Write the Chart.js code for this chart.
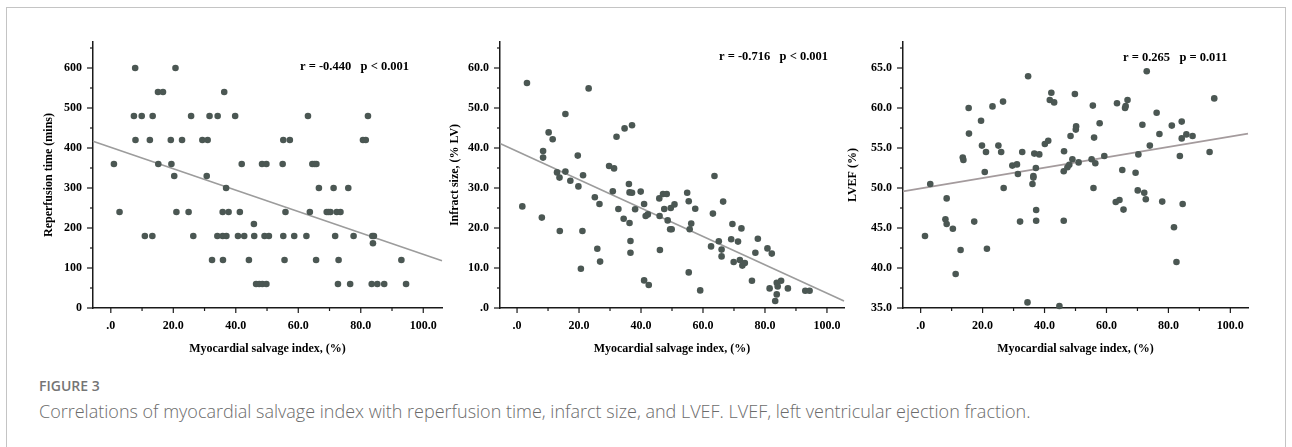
<!DOCTYPE html>
<html><head><meta charset="utf-8">
<script src="https://cdn.jsdelivr.net/npm/chart.js@4.4.1/dist/chart.umd.min.js"></script>
<style>
html,body{margin:0;padding:0;background:#fff;width:1292px;height:447px;overflow:hidden;position:relative;}
#frame{position:absolute;left:6px;top:7px;width:1280px;height:460px;border:1px solid #c4c4c4;border-bottom:none;box-sizing:border-box;}
canvas{position:absolute;top:0;}
#fig{position:absolute;left:39px;top:376px;font:600 14px "Open Sans";color:#757575;line-height:20px;white-space:nowrap;}
#cap{position:absolute;left:39px;top:399px;font:300 18px "Open Sans";color:#6b6b6b;line-height:24px;white-space:nowrap;}
</style></head>
<body>
<div id="frame"></div>
<canvas id="c1" width="413" height="358" style="left:33px"></canvas>
<canvas id="c2" width="408" height="358" style="left:440px"></canvas>
<canvas id="c3" width="409" height="358" style="left:843px"></canvas>
<div id="fig">FIGURE 3</div>
<div id="cap">Correlations of myocardial salvage index with reperfusion time, infarct size, and LVEF. LVEF, left ventricular ejection fraction.</div>
<script>
// ---- data ----
const xTickValues = [0, 20, 40, 60, 80, 100];
const xTickLabels = ['.0', '20.0', '40.0', '60.0', '80.0', '100.0'];
const xMinorTicks = [10, 30, 50, 70, 90];

const repTickValues = [0, 100, 200, 300, 400, 500, 600];
const repTickLabels = ['0', '100', '200', '300', '400', '500', '600'];
const repMinorTicks = [50, 150, 250, 350, 450, 550, 650];

const infTickValues = [0, 10, 20, 30, 40, 50, 60];
const infTickLabels = ['.0', '10.0', '20.0', '30.0', '40.0', '50.0', '60.0'];
const infMinorTicks = [5, 15, 25, 35, 45, 55, 65];

const efTickValues = [35, 40, 45, 50, 55, 60, 65];
const efTickLabels = ['35.0', '40.0', '45.0', '50.0', '55.0', '60.0', '65.0'];
const efMinorTicks = [37.5, 42.5, 47.5, 52.5, 57.5, 62.5, 67.5];

const msiRep = [7.8,20.7, 15.1,16.7,36.3, 7.4,9.9,13.4,25.7,31.6,34.2,39.8,63.1,82.3,
  7.9,12.5,19.2,22.8,29.3,31.0,55.2,57.3,80.7,81.6,
  1.0,15.2,19.4,41.9,48.4,49.8,55.0,64.5,65.2,65.8, 20.3,30.7, 36.9,66.6,71.3,76.0,
  2.8,21.0,24.9,35.8,37.7,41.3,55.9,63.7,69.1,69.7,70.3,72.3,73.5, 45.8,
  10.9,13.3,26.4,34.1,35.8,37.0,40.7,42.7,45.9,49.2,50.6,55.2,58.7,62.6,71.8,77.7,83.7,84.2, 83.9,
  32.4,35.9,44.2,55.6,65.7,72.9,93.0, 46.5,47.5,48.5,49.8,72.7,76.6,83.5,85.3,87.5,94.5];
const repTime = [600,600, 540,540,540, 480,480,480,480,480,480,480,480,480,
  420,420,420,420,420,420,420,420,420,420,
  360,360,360,360,360,360,360,360,360,360, 330,330, 300,300,300,300,
  240,240,240,240,240,240,240,240,240,240,240,240,240, 210,
  180,180,180,180,180,180,180,180,180,180,180,180,180,180,180,180,180,180, 162,
  120,120,120,120,120,120,120, 60,60,60,60,60,60,60,60,60,60];

const msiInf = [3.2,23.1,15.6,10.2,11.5,37.1,34.7,32.1,8.4,8.4,19.6,12.9,13.7,15.6,17.2,21.3,19.8,29.7,31.3,30.9,
  36.1,36.3,37.1,39.9,25.1,26.6,32.7,38.1,41.0,34.4,36.3,41.5,42.2,45.9,47.1,48.3,47.5,46.0,48.6,49.6,
  50.8,49.4,49.9,54.9,55.4,57.5,56.2,55.7,1.7,8.0,13.8,21.1,25.9,26.8,20.6,36.6,36.6,46.1,41.0,42.5,
  55.4,59.1,63.7,63.2,62.6,65.1,66.0,66.0,66.5,69.5,69.1,69.9,71.3,71.9,72.4,72.7,73.5,75.8,76.9,77.7,
  80.8,82.2,81.5,83.3,83.8,83.8,84.1,85.2,87.4,93.0,94.4];
const infarctSize = [56.25,54.9,48.5,43.9,42.2,45.7,44.9,42.8,39.25,37.6,38.1,33.9,32.6,34.1,31.8,33.2,30.4,35.5,34.9,29.2,
  31.0,28.9,28.8,29.1,27.7,26.0,24.75,24.7,26.0,22.3,21.25,23.0,23.4,27.4,28.5,28.5,24.75,23.0,21.9,25.0,
  25.9,19.7,19.7,28.8,26.7,24.8,21.1,19.7,25.4,22.6,19.25,19.25,14.8,11.6,9.8,16.75,13.8,14.5,6.9,5.75,
  8.9,4.4,33.0,23.6,15.4,16.7,14.6,12.9,26.6,21.0,17.2,11.5,16.6,12.0,19.9,10.6,11.25,6.8,13.8,17.3,
  14.9,13.6,4.9,1.75,3.4,6.3,5.4,6.8,4.9,4.3,4.3];

const msiEf = [1.4,3.1,8.0,8.4,8.4,10.4,11.3,12.9,13.6,13.8,15.5,15.6,17.3,19.5,19.8,20.7,21.1,21.4,23.2,25.1,
  26.0,26.6,26.8,29.6,31.1,31.4,32.1,32.8,34.7,34.5,36.1,36.4,36.4,36.7,37.2,37.3,37.3,38.3,40.1,41.2,
  41.7,42.2,43.1,44.8,46.2,46.2,46.3,47.4,48.0,48.4,49.0,49.8,50.1,50.2,51.0,55.2,55.6,56.0,55.8,56.4,
  57.8,59.3,63.0,63.4,64.2,65.1,65.5,66.0,66.2,66.8,69.4,70.1,70.3,71.6,72.2,72.7,73.0,74.0,76.2,77.1,
  78.0,81.1,81.8,82.6,83.7,84.3,84.3,84.6,85.8,87.8,93.3,94.8];
const lvef = [44.0,50.5,46.1,48.7,45.5,44.9,39.25,42.25,53.8,53.5,60.0,56.8,45.8,58.4,55.3,52.0,54.5,42.4,60.2,55.3,
  54.5,60.8,50.0,52.8,52.95,51.75,45.8,54.5,63.96,35.7,50.5,51.5,51.3,54.3,52.5,47.25,45.9,54.2,55.5,55.9,
  61.0,61.9,60.7,35.25,45.9,52.1,54.6,52.6,52.9,56.5,53.6,61.75,57.3,57.7,53.2,53.6,60.3,56.3,50.0,53.1,
  58.1,54.0,48.25,60.6,48.5,52.25,47.3,60.0,60.25,61.0,51.9,49.7,54.2,57.9,49.4,48.6,64.6,55.3,59.4,56.75,
  48.3,57.8,45.1,40.75,54.0,58.3,56.2,48.0,56.7,56.5,54.5,61.2];

// fit line end points
const repFitX = [-5.7, 106.0];
const repFitY = [416.7, 118.3];
const infFitX = [-5.5, 105.5];
const infFitY = [41.1, 1.75];
const efFitX = [-5.7, 105.7];
const efFitY = [49.58, 56.8];

const statRep = 'r = -0.440   p < 0.001';
const statInf = 'r = -0.716   p < 0.001';
const statEf = 'r = 0.265   p = 0.011';

// ---- drawing ----
const DOT = '#4b5753';
const AXIS = '#1a1a1a';
const SERIF = '"Liberation Serif", "Times New Roman", serif';

const tickMarks = {
  id: 'tickMarks',
  afterDraw(chart, args, o) {
    const ctx = chart.ctx, xs = chart.scales.x, ys = chart.scales.y;
    ctx.save();
    ctx.strokeStyle = AXIS; ctx.lineWidth = 1.2;
    const seg = (a, b, c, d) => { ctx.beginPath(); ctx.moveTo(a, b); ctx.lineTo(c, d); ctx.stroke(); };
    const yb = chart.chartArea.bottom, xl = chart.chartArea.left;
    o.xMajor.forEach(v => { const p = xs.getPixelForValue(v); seg(p, yb, p, yb + 5); });
    o.xMinor.forEach(v => { const p = xs.getPixelForValue(v); seg(p, yb, p, yb + 3); });
    o.yMajor.forEach(v => { const p = ys.getPixelForValue(v); seg(xl - 6, p, xl, p); });
    o.yMinor.forEach(v => { const p = ys.getPixelForValue(v); seg(xl - 3, p, xl, p); });
    ctx.restore();
  }
};
const statText = {
  id: 'statText',
  afterDraw(chart, args, o) {
    const ctx = chart.ctx, ca = chart.chartArea;
    ctx.save();
    ctx.font = 'bold 12.5px ' + SERIF;
    ctx.fillStyle = '#000';
    ctx.textBaseline = 'middle';
    ctx.textAlign = 'left';
    ctx.fillText(o.text, ca.left + o.dx, o.y);
    ctx.restore();
  }
};

function makeChart(id, c) {
  const font = { family: SERIF, size: 12, weight: 'bold' };
  new Chart(document.getElementById(id), {
    type: 'scatter',
    data: {
      datasets: [
        { data: c.xs.map((x, i) => ({ x: x, y: c.ys[i] })), pointRadius: 3.3, pointHoverRadius: 3.3,
          backgroundColor: DOT, pointBackgroundColor: DOT, pointBorderWidth: 0, borderWidth: 0, clip: false, order: 1 },
        { type: 'line', data: c.fx.map((x, i) => ({ x: x, y: c.fy[i] })), borderColor: c.fitColor, borderWidth: 1.6,
          pointRadius: 0, fill: false, showLine: true, tension: 0, clip: false, order: 2 }
      ]
    },
    options: {
      responsive: false, animation: false, devicePixelRatio: 1,
      layout: { padding: { top: 42, right: 4, bottom: 0, left: 0 } },
      plugins: {
        legend: { display: false }, tooltip: { enabled: false },
        tickMarks: { xMajor: xTickValues, xMinor: xMinorTicks, yMajor: c.yTicks, yMinor: c.yMinor },
        statText: { text: c.stat, dx: c.statDx, y: c.statY }
      },
      scales: {
        x: {
          type: 'linear', min: c.xmin, max: c.xmax,
          afterFit: s => { s.height = 50; },
          afterBuildTicks: s => { s.ticks = xTickValues.map(v => ({ value: v })); },
          grid: { display: false, drawTicks: true, tickLength: 5 },
          border: { display: true, color: AXIS, width: 1.5 },
          ticks: { autoSkip: false, maxRotation: 0, padding: 6, font: font, color: '#000',
                   callback: (v, i) => xTickLabels[i] },
          title: { display: true, text: 'Myocardial salvage index, (%)', font: font, color: '#000',
                   padding: { top: 0, bottom: 2.3 } }
        },
        y: {
          type: 'linear', min: c.ymin, max: c.ymax,
          afterFit: s => { s.width = 60; },
          afterBuildTicks: s => { s.ticks = c.yTicks.map(v => ({ value: v })); },
          grid: { display: false, drawTicks: true, tickLength: 6 },
          border: { display: true, color: AXIS, width: 1.5 },
          ticks: { autoSkip: false, padding: 5, font: font, color: '#000',
                   callback: (v, i) => c.yLabels[i] },
          title: { display: true, text: c.yTitle, font: font, color: '#000',
                   padding: { top: c.titlePad, bottom: 0 } }
        }
      }
    },
    plugins: [tickMarks, statText]
  });
}

makeChart('c1', { xs: msiRep, ys: repTime, fx: repFitX, fy: repFitY, fitColor: '#9c9c9c',
  xmin: -5.7, xmax: 106, ymin: 0, ymax: 665, yTicks: repTickValues, yLabels: repTickLabels, yMinor: repMinorTicks,
  yTitle: 'Reperfusion time (mins)', titlePad: 8.8, stat: statRep, statDx: 207, statY: 66.7 });
makeChart('c2', { xs: msiInf, ys: infarctSize, fx: infFitX, fy: infFitY, fitColor: '#9c9c9c',
  xmin: -5.5, xmax: 105.5, ymin: 0, ymax: 66.5, yTicks: infTickValues, yLabels: infTickLabels, yMinor: infMinorTicks,
  yTitle: 'Infract size, (% LV)', titlePad: 7.8, stat: statInf, statDx: 219, statY: 56.7 });
makeChart('c3', { xs: msiEf, ys: lvef, fx: efFitX, fy: efFitY, fitColor: '#a49b9d',
  xmin: -5.7, xmax: 105.7, ymin: 35, ymax: 68.25, yTicks: efTickValues, yLabels: efTickLabels, yMinor: efMinorTicks,
  yTitle: 'LVEF (%)', titlePad: 2.8, stat: statEf, statDx: 220, statY: 57.3 });
</script>
</body></html>
